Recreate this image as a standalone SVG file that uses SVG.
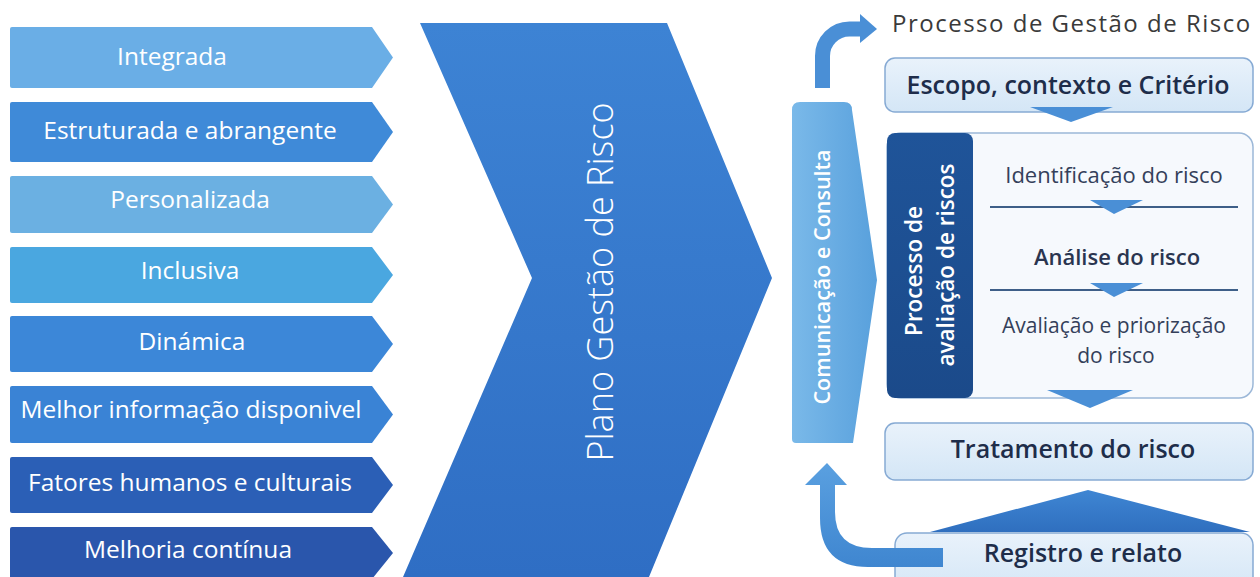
<svg xmlns="http://www.w3.org/2000/svg" width="1260" height="577" viewBox="0 0 1260 577">
<defs>
<style>
.lt{font-family:"Open Sans","Noto Sans","Liberation Sans",sans-serif;fill:#ffffff;font-size:24.5px;text-anchor:middle}
.dk{font-family:"Open Sans","Noto Sans","Liberation Sans",sans-serif;fill:#1e2d4a;text-anchor:middle}
.box{fill:url(#gBox);stroke:#86aad4;stroke-width:1.5}
.sep{stroke:#3e5f88;stroke-width:2}
.arr{fill:#4a8fd6}
</style>
<linearGradient id="gBox" x1="0" y1="0" x2="0" y2="1"><stop offset="0" stop-color="#e9f2fb"/><stop offset="1" stop-color="#d4e6f6"/></linearGradient>
<linearGradient id="gChev" x1="0" y1="0" x2="0" y2="1"><stop offset="0" stop-color="#3d83d4"/><stop offset="1" stop-color="#2f6ec4"/></linearGradient>
<linearGradient id="gCom" x1="0" y1="0" x2="1" y2="0"><stop offset="0" stop-color="#7ab9e9"/><stop offset="1" stop-color="#58a0dc"/></linearGradient>
<linearGradient id="gDark" x1="0" y1="0" x2="0" y2="1"><stop offset="0" stop-color="#1f5499"/><stop offset="1" stop-color="#1b4a8a"/></linearGradient>
<linearGradient id="gTri" x1="0" y1="0" x2="0" y2="1"><stop offset="0" stop-color="#3f86d3"/><stop offset="1" stop-color="#2f6fbf"/></linearGradient>
<linearGradient id="gArr" x1="0" y1="0" x2="0" y2="1"><stop offset="0" stop-color="#5aa0e0"/><stop offset="1" stop-color="#3f86d0"/></linearGradient>
</defs>
<rect width="1260" height="577" fill="#ffffff"/>

<g id="p1"><path d="M12 27 H372 L393 57.5 L372 88 H12 Q10 88 10 86 V29 Q10 27 12 27 Z" fill="#6aaee6"/><text class="lt" x="172" y="65">Integrada</text></g>
<g id="p2"><path d="M12 102 H372 L393 132 L372 162 H12 Q10 162 10 160 V104 Q10 102 12 102 Z" fill="#3f8ad8"/><text class="lt" x="190" y="139">Estruturada e abrangente</text></g>
<g id="p3"><path d="M12 176 H372 L393 204.5 L372 233 H12 Q10 233 10 231 V178 Q10 176 12 176 Z" fill="#6bb0e2"/><text class="lt" x="190" y="208">Personalizada</text></g>
<g id="p4"><path d="M12 247 H372 L393 275 L372 303 H12 Q10 303 10 301 V249 Q10 247 12 247 Z" fill="#4aa7e0"/><text class="lt" x="190" y="279">Inclusiva</text></g>
<g id="p5"><path d="M12 316 H372 L393 344 L372 372 H12 Q10 372 10 370 V318 Q10 316 12 316 Z" fill="#3c87d8"/><text class="lt" x="192" y="350">Dinámica</text></g>
<g id="p6"><path d="M12 386 H372 L393 414.5 L372 443 H12 Q10 443 10 441 V388 Q10 386 12 386 Z" fill="#3a83d5"/><text class="lt" x="191" y="418">Melhor informação disponivel</text></g>
<g id="p7"><path d="M12 457 H372 L393 485 L372 513 H12 Q10 513 10 511 V459 Q10 457 12 457 Z" fill="#2b5fb6"/><text class="lt" x="190" y="491">Fatores humanos e culturais</text></g>
<g id="p8"><path d="M12 527 H372 L393 553 L372 579 H12 Q10 579 10 577 V529 Q10 527 12 527 Z" fill="#2a56ac"/><text class="lt" x="188" y="558">Melhoria contínua</text></g>

<g id="plano">
<path d="M420 23 H667 L772 278 L649 577 H403 L532 278 Z" fill="url(#gChev)"/>
<text x="613" y="282" transform="rotate(-90 613 282)" style="font-family:'Open Sans','Noto Sans','Liberation Sans',sans-serif;font-weight:300;font-size:36px;fill:#ffffff;text-anchor:middle">Plano Gestão de Risco</text>
</g>

<g id="title"><text x="892" y="32" style="font-family:'Open Sans','Noto Sans','Liberation Sans',sans-serif;font-size:24px;fill:#3a3a3a;letter-spacing:1.5px">Processo de Gestão de Risco</text></g>

<g id="comunicacao">
<path d="M792 110 Q792 102 800 102 H844 Q852 102 852 110 L877 280 L853 443 H796 Q792 443 792 439 Z" fill="url(#gCom)"/>
<text x="830" y="277" transform="rotate(-90 830 277)" style="font-family:'Open Sans','Noto Sans','Liberation Sans',sans-serif;font-weight:600;font-size:21.5px;fill:#ffffff;text-anchor:middle">Comunicação e Consulta</text>
</g>

<g id="escopo">
<rect class="box" x="885" y="58" width="368" height="54" rx="10"/>
<text class="dk" x="1068" y="94" style="font-size:25px;font-weight:600">Escopo, contexto e Critério</text>
</g>

<g id="avaliacao">
<rect x="887" y="133" width="366" height="265" rx="14" fill="#f6f9fd" stroke="#9cb8d8" stroke-width="1.5"/>
<rect x="887" y="133" width="86" height="265" rx="8" fill="url(#gDark)"/>
<text x="922" y="271" transform="rotate(-90 922 271)" style="font-family:'Open Sans','Noto Sans','Liberation Sans',sans-serif;font-weight:600;font-size:22.5px;fill:#ffffff;text-anchor:middle">Processo de</text>
<text x="954" y="265" transform="rotate(-90 954 265)" style="font-family:'Open Sans','Noto Sans','Liberation Sans',sans-serif;font-weight:600;font-size:22.5px;fill:#ffffff;text-anchor:middle">avaliação de riscos</text>
<text class="dk" x="1114" y="183" style="font-size:22px;fill:#34405a">Identificação do risco</text>
<text class="dk" x="1117" y="265" style="font-size:22px;font-weight:600;fill:#2a3550">Análise do risco</text>
<text class="dk" x="1114" y="333" style="font-size:21px;fill:#34405a">Avaliação e priorização</text>
<text class="dk" x="1116" y="363" style="font-size:21px;fill:#34405a">do risco</text>
</g>

<g id="tratamento">
<rect class="box" x="885" y="423" width="368" height="57" rx="10"/>
<text class="dk" x="1073" y="458" style="font-size:25px;font-weight:600">Tratamento do risco</text>
</g>

<g id="registro">
<rect class="box" x="895" y="533" width="358" height="60" rx="12"/>
<text class="dk" x="1083" y="562" style="font-size:25px;font-weight:600">Registro e relato</text>
</g>

<g id="connectors">
<path d="M1030 107 H1113 L1071 122 Z" class="arr"/>
<line class="sep" x1="990" y1="207" x2="1238" y2="207"/>
<path d="M1090 200 H1143 L1114 214 Z" class="arr"/>
<line class="sep" x1="990" y1="290" x2="1238" y2="290"/>
<path d="M1090 283 H1143 L1114 297 Z" class="arr"/>
<path d="M1047 390 H1133 L1090 408 Z" class="arr"/>
<path d="M930 532 L1088 490 L1250 532 Z" fill="url(#gTri)"/>
<path d="M822.5 88 V56 A27 27 0 0 1 849.5 29 H862" fill="none" stroke="#4a8fd6" stroke-width="15"/>
<path d="M860 14 L877 29 L860 43 Z" fill="#4a8fd6"/>
<path d="M943 548 H872 Q835 548 835 512 V485 H847 L827 463 L805 485 H820 V518 Q820 567 868 567 H943 Z" fill="url(#gArr)"/>
</g>
</svg>
